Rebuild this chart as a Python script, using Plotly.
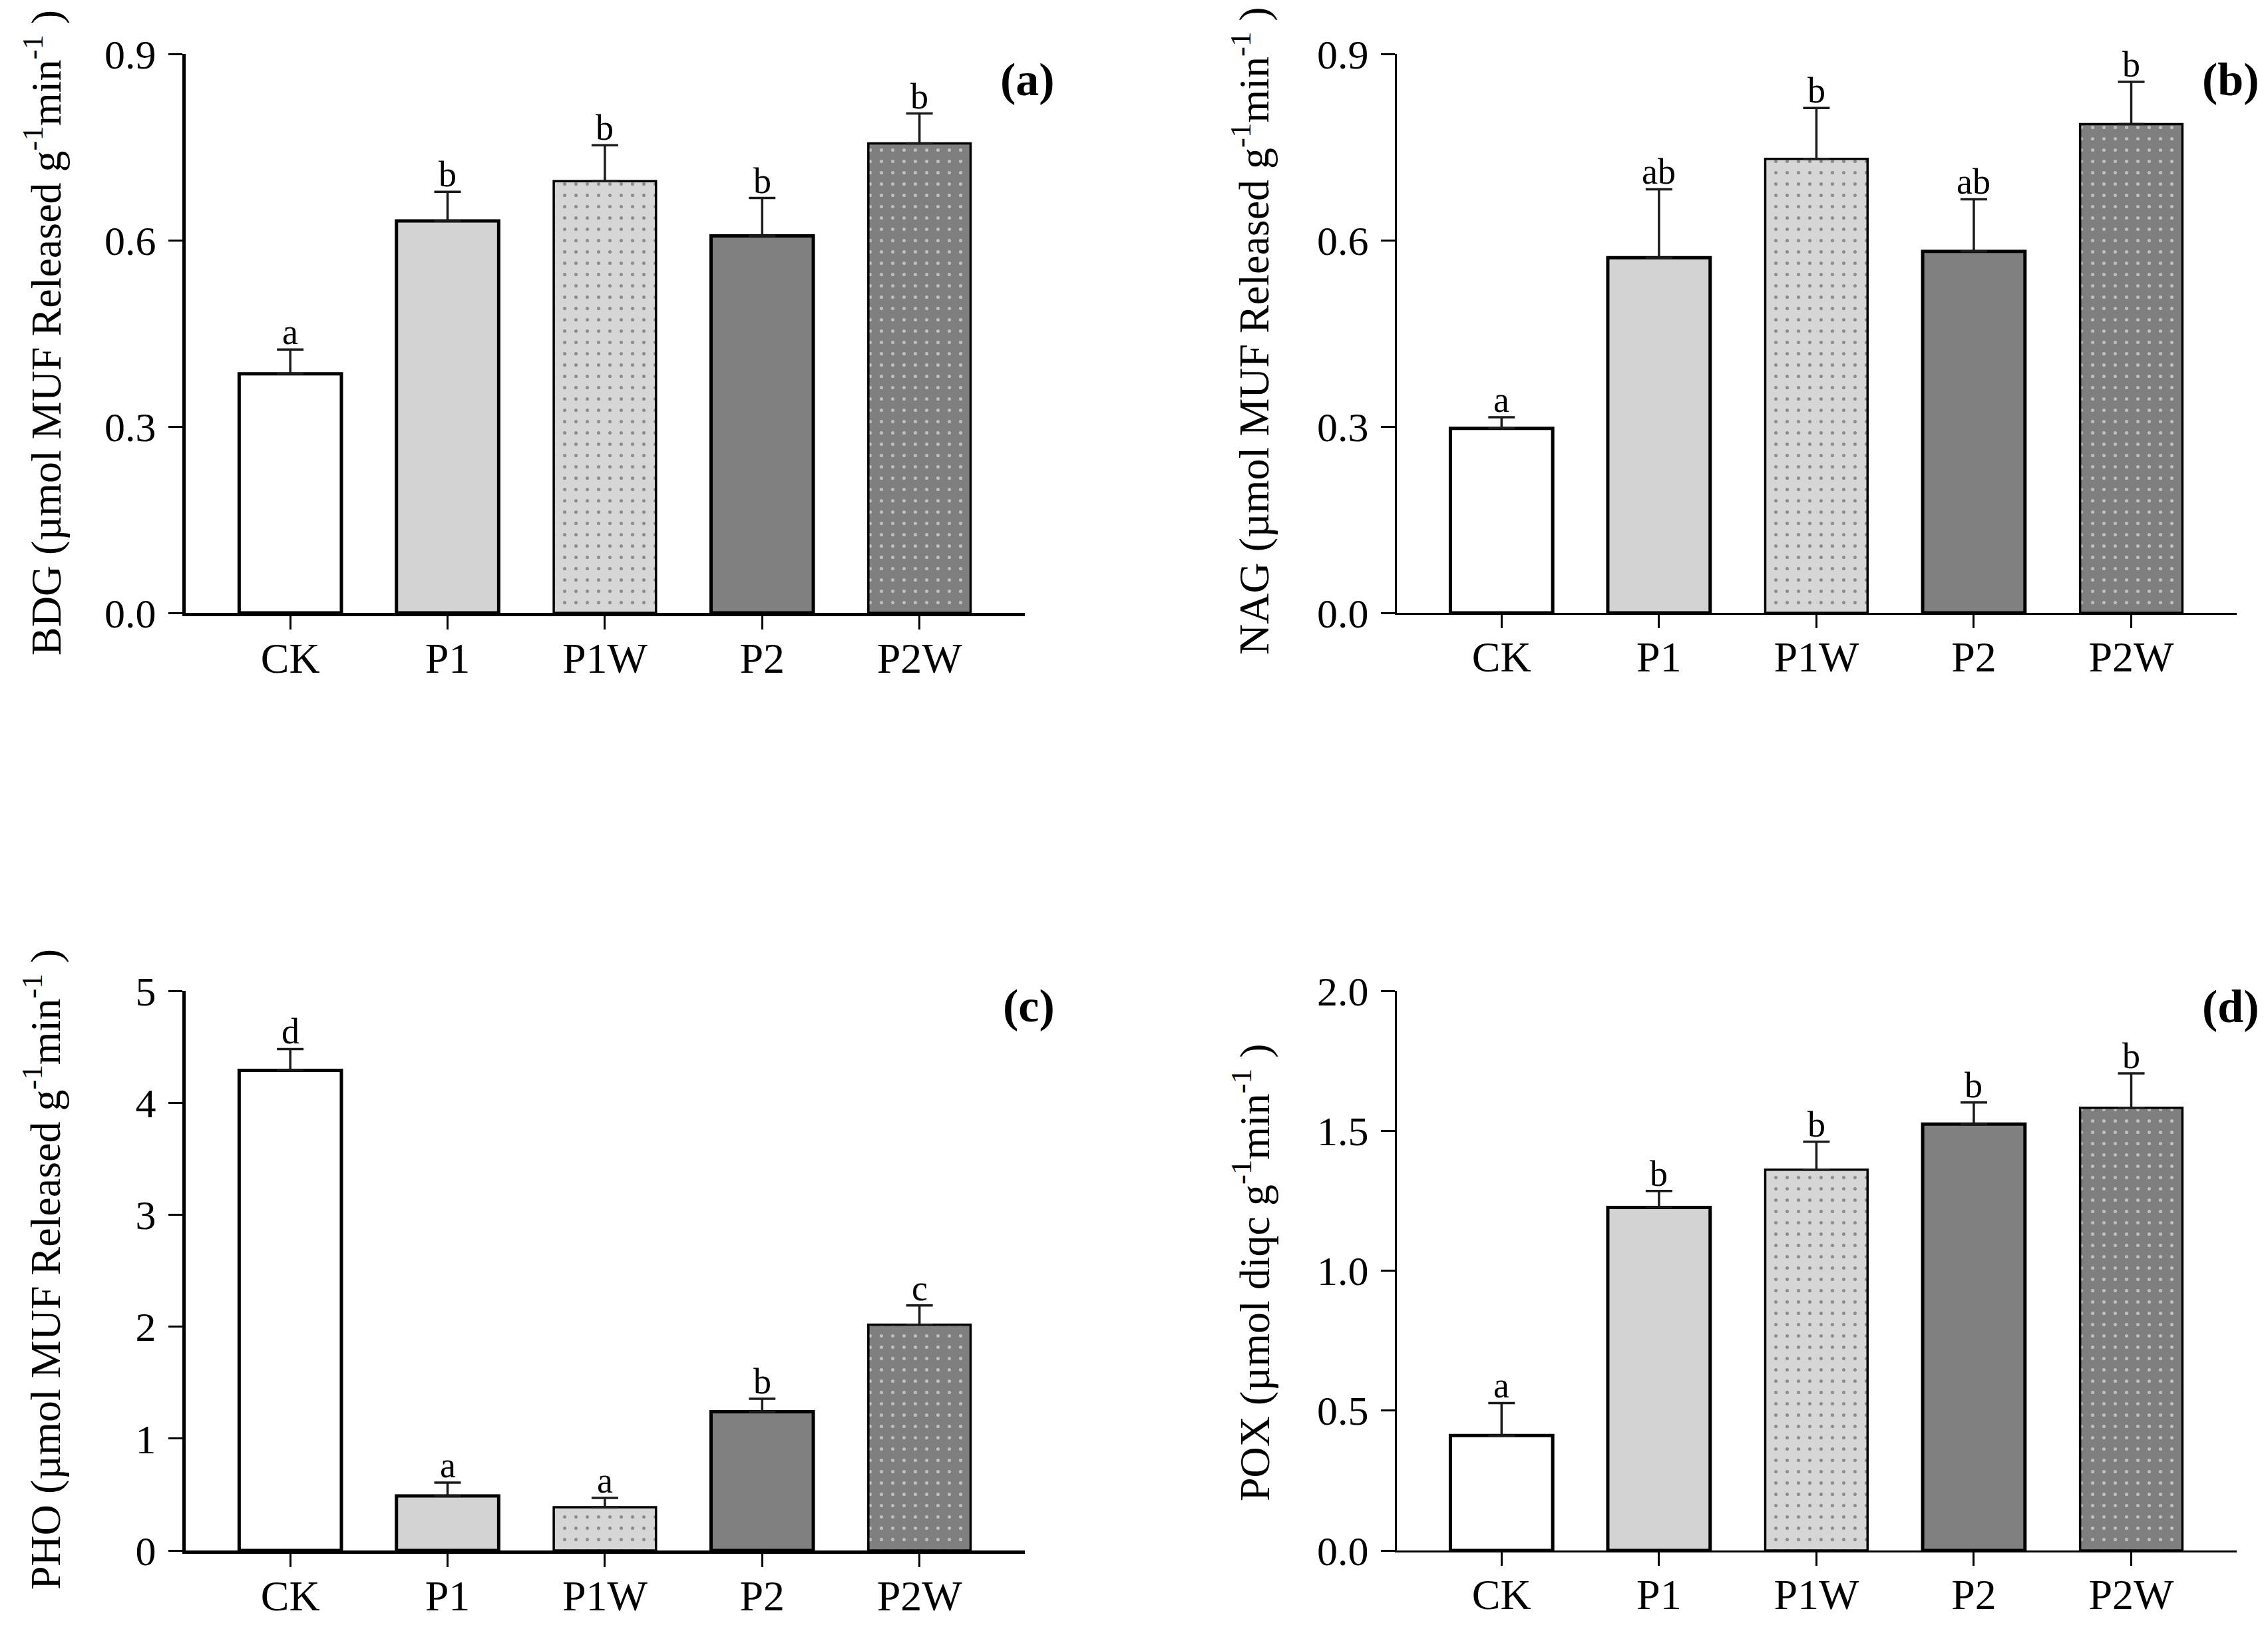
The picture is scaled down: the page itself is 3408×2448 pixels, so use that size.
import plotly.graph_objects as go

W, H = 3408, 2448
OFF = 8  # the page body margin pushes the figure by this many px

categories = ["CK", "P1", "P1W", "P2", "P2W"]

# panel (a) BDG
bdg_mean = [0.385, 0.631, 0.695, 0.607, 0.756]
bdg_err = [0.039, 0.047, 0.058, 0.061, 0.048]
bdg_letters = ["a", "b", "b", "b", "b"]

# panel (b) NAG
nag_mean = [0.297, 0.572, 0.731, 0.582, 0.787]
nag_err = [0.018, 0.110, 0.082, 0.084, 0.068]
nag_letters = ["a", "ab", "b", "ab", "b"]

# panel (c) PHO
pho_mean = [4.29, 0.487, 0.387, 1.24, 2.017]
pho_err = [0.19, 0.12, 0.083, 0.116, 0.173]
pho_letters = ["d", "a", "a", "b", "c"]

# panel (d) POX
pox_mean = [0.411, 1.226, 1.361, 1.524, 1.582]
pox_err = [0.116, 0.059, 0.100, 0.077, 0.123]
pox_letters = ["a", "b", "b", "b", "b"]

bar_colors = ["#ffffff", "#d3d3d3", "#d6d6d6", "#808080", "#7f7f7f"]
bar_patterns = ["", "", ".", "", "."]
bar_linewidths = [5, 5, 3.5, 5, 3.5]

SERIF = "Liberation Serif, Times New Roman, serif"


def px(v):
    return (v - OFF) / W


def py(v):
    return 1 - (v - OFF) / H


panels = [
    dict(mean=bdg_mean, err=bdg_err, letters=bdg_letters, tag="(a)",
         title="BDG (µmol MUF Released g<sup>-1</sup>min<sup>-1</sup> )",
         yrange=[0, 0.9], dtick=0.3, fmt=".1f", axw=5,
         xdom=(279, 1540), ydom=(81, 921), tagpos=(1544, 120), titlepos=(65, 500)),
    dict(mean=nag_mean, err=nag_err, letters=nag_letters, tag="(b)",
         title="NAG (µmol MUF Released g<sup>-1</sup>min<sup>-1</sup> )",
         yrange=[0, 0.9], dtick=0.3, fmt=".1f", axw=3,
         xdom=(2099, 3361), ydom=(81, 921), tagpos=(3352, 120), titlepos=(1880, 497)),
    dict(mean=pho_mean, err=pho_err, letters=pho_letters, tag="(c)",
         title="PHO (µmol MUF Released g<sup>-1</sup>min<sup>-1</sup> )",
         yrange=[0, 5], dtick=1, fmt="d", axw=5,
         xdom=(279, 1540), ydom=(1489, 2330), tagpos=(1546, 1511), titlepos=(63, 1908)),
    dict(mean=pox_mean, err=pox_err, letters=pox_letters, tag="(d)",
         title="POX (µmol diqc g<sup>-1</sup>min<sup>-1</sup> )",
         yrange=[0, 2.0], dtick=0.5, fmt=".1f", axw=3,
         xdom=(2099, 3361), ydom=(1489, 2330), tagpos=(3352, 1512), titlepos=(1880, 1912)),
]

fig = go.Figure()
annotations = []
layout_axes = {}

for i, p in enumerate(panels, start=1):
    xa = "x" if i == 1 else f"x{i}"
    ya = "y" if i == 1 else f"y{i}"
    fig.add_trace(go.Bar(
        x=categories,
        y=p["mean"],
        xaxis=xa,
        yaxis=ya,
        width=0.65,
        marker=dict(
            color=bar_colors,
            line=dict(color="black", width=bar_linewidths),
            pattern=dict(shape=bar_patterns, fgcolor="black", size=17, solidity=0.07),
        ),
        error_y=dict(
            type="data",
            symmetric=False,
            array=p["err"],
            arrayminus=[0] * len(p["err"]),
            color="#1a1a1a",
            thickness=3.5,
            width=20,
        ),
        hoverinfo="x+y",
        showlegend=False,
    ))

    # significance letters above the error bars
    for cat, m, e, lt in zip(categories, p["mean"], p["err"], p["letters"]):
        annotations.append(dict(
            x=cat, y=m + e, xref=xa, yref=ya, text=lt, showarrow=False,
            yanchor="bottom", yshift=-6,
            font=dict(family=SERIF, size=54, color="black"),
        ))

    # panel tag
    annotations.append(dict(
        x=px(p["tagpos"][0]), y=py(p["tagpos"][1]), xref="paper", yref="paper",
        text=f"<b>{p['tag']}</b>", showarrow=False, xanchor="center", yanchor="middle",
        font=dict(family=SERIF, size=70, color="black"),
    ))

    # y axis title
    annotations.append(dict(
        x=px(p["titlepos"][0]), y=py(p["titlepos"][1]), xref="paper", yref="paper",
        text=p["title"], showarrow=False, textangle=-90, xanchor="center", yanchor="middle",
        font=dict(family=SERIF, size=64, color="black"),
    ))

    xkey = "xaxis" if i == 1 else f"xaxis{i}"
    ykey = "yaxis" if i == 1 else f"yaxis{i}"
    layout_axes[xkey] = dict(
        domain=[px(p["xdom"][0]), px(p["xdom"][1])],
        anchor=ya,
        range=[-0.665, 4.67],
        showline=True, linecolor="black", linewidth=p["axw"],
        ticks="outside", ticklen=20, tickwidth=3, tickcolor="black",
        showgrid=False, zeroline=False, automargin=False,
        tickfont=dict(family=SERIF, size=64, color="black"),
        ticklabelstandoff=-12,
        fixedrange=True,
    )
    layout_axes[ykey] = dict(
        domain=[py(p["ydom"][1]), py(p["ydom"][0])],
        anchor=xa,
        range=p["yrange"],
        dtick=p["dtick"], tick0=0, tickformat=p["fmt"],
        showline=True, linecolor="black", linewidth=p["axw"],
        ticks="outside", ticklen=21, tickwidth=3, tickcolor="black",
        showgrid=False, zeroline=False, automargin=False,
        tickfont=dict(family=SERIF, size=62, color="black"),
        ticklabelstandoff=6,
        fixedrange=True,
    )

fig.update_layout(
    width=W, height=H,
    margin=dict(l=0, r=0, t=0, b=0, autoexpand=False),
    plot_bgcolor="white", paper_bgcolor="white",
    showlegend=False,
    bargap=0.35,
    annotations=annotations,
    **layout_axes,
)

fig.write_html("out.html")
